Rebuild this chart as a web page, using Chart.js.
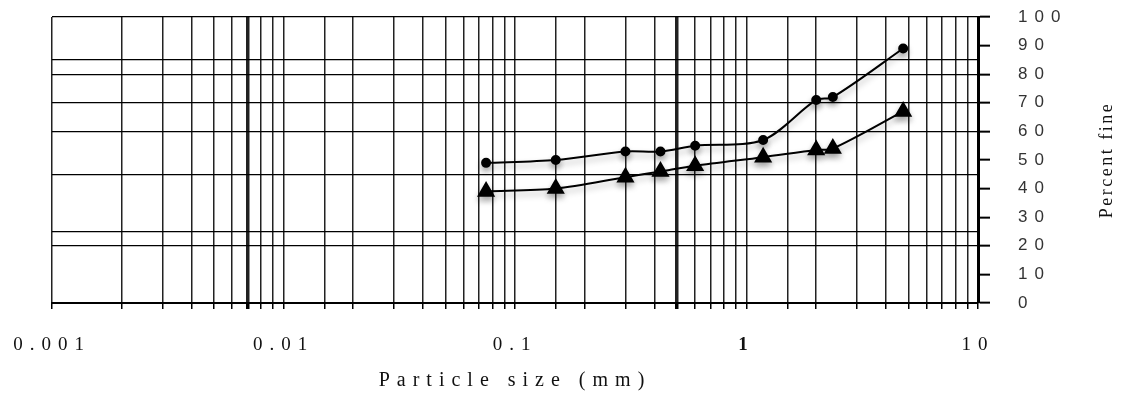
<!DOCTYPE html>
<html>
<head>
<meta charset="utf-8">
<script src="https://cdn.jsdelivr.net/npm/chart.js@4/dist/chart.umd.min.js"></script>
<style>
  html, body { margin: 0; padding: 0; background: #fff; }
  canvas { display: block; }
</style>
</head>
<body>
<canvas id="chart" width="1133" height="398"></canvas>
<script>
// sieve sizes (mm) and percent passing
const sieveSizes = [0.075, 0.15, 0.3, 0.425, 0.6, 1.18, 2.0, 2.36, 4.75]
const finesCircle = [49, 50, 53, 53, 55, 57, 71, 72, 89]
const finesTriangle = [39, 40, 44, 46, 48, 51, 53.5, 54, 67]

const xTickLabels = ['0.001', '0.01', '0.1', '1', '10']
const yTickValues = [0, 10, 20, 30, 40, 50, 60, 70, 80, 90, 100]
const yGridValues = [20, 25, 45, 60, 70, 80, 85, 100]
const xHeavyLines = [0.007, 0.5]

const near = (a, b) => Math.abs(a / b - 1) < 1e-6
const isDecade = v => Math.abs(Math.log10(v) - Math.round(Math.log10(v))) < 1e-6

const toPoints = ys => sieveSizes.map((x, i) => ({ x, y: ys[i] }))

// text in the scan is spread out, mimic with canvas letterSpacing
const spacing = {
  id: 'spacing',
  beforeDraw(chart) {
    chart.ctx.letterSpacing = '7px'
  }
}

const shadow = {
  id: 'shadow',
  beforeDatasetsDraw(chart) {
    const ctx = chart.ctx
    ctx.save()
    ctx.shadowColor = 'rgba(0,0,0,0.3)'
    ctx.shadowBlur = 6
    ctx.shadowOffsetY = 4
  },
  afterDatasetsDraw(chart) {
    chart.ctx.restore()
  }
}

// right-hand axis title reads bottom to top
const yTitle = {
  id: 'yTitle',
  afterDraw(chart) {
    const ctx = chart.ctx
    ctx.save()
    ctx.letterSpacing = '2.5px'
    ctx.font = '18px "Liberation Serif"'
    ctx.fillStyle = '#111'
    ctx.textAlign = 'center'
    ctx.textBaseline = 'middle'
    ctx.translate(1107, 160)
    ctx.rotate(-Math.PI / 2)
    ctx.fillText('Percent fine', 0, 0)
    ctx.restore()
  }
}

const chart = new Chart(document.getElementById('chart'), {
  type: 'line',
  data: {
    datasets: [
      {
        label: 'circle',
        data: toPoints(finesCircle),
        borderColor: '#000',
        backgroundColor: '#000',
        borderWidth: 2,
        pointStyle: 'circle',
        pointRadius: 4,
        tension: 0.3
      },
      {
        label: 'triangle',
        data: toPoints(finesTriangle),
        borderColor: '#000',
        backgroundColor: '#000',
        borderWidth: 2,
        pointStyle: 'triangle',
        pointRadius: 8.5,
        tension: 0.3
      }
    ]
  },
  options: {
    responsive: false,
    animation: false,
    layout: { padding: { left: 52, top: 17, right: 0, bottom: 0 } },
    plugins: {
      legend: { display: false },
      tooltip: { enabled: false }
    },
    scales: {
      x: {
        type: 'logarithmic',
        min: 0.001,
        max: 10,
        afterFit(scale) {
          scale.height = 95
          scale.paddingLeft = 0
          scale.paddingRight = 0
        },
        border: { display: true, color: '#000', width: 2 },
        grid: {
          color: '#222',
          tickColor: '#000',
          tickLength: 6,
          lineWidth: ctx => {
            const v = ctx.tick && ctx.tick.value
            return v && xHeavyLines.some(h => near(v, h)) ? 3.5 : 1.5
          }
        },
        ticks: {
          autoSkip: false,
          maxRotation: 0,
          padding: 25,
          color: '#111',
          font: ctx => ({
            family: '"Liberation Serif"',
            size: 19,
            weight: ctx.tick && near(ctx.tick.value, 1) ? 'bold' : 'normal'
          }),
          callback: v => isDecade(v) ? xTickLabels[Math.round(Math.log10(v)) + 3] : ''
        },
        title: {
          display: true,
          text: 'Particle size (mm)',
          color: '#111',
          font: { family: '"Liberation Serif"', size: 20 },
          padding: { top: 0, bottom: 5 }
        }
      },
      y: {
        position: 'right',
        min: 0,
        max: 100,
        afterBuildTicks(scale) {
          const vals = [...new Set([...yTickValues, ...yGridValues])].sort((a, b) => a - b)
          scale.ticks = vals.map(value => ({ value }))
        },
        afterFit(scale) {
          scale.width = 155
          scale.paddingTop = 0
          scale.paddingBottom = 0
        },
        border: { display: true, color: '#000', width: 3 },
        grid: {
          lineWidth: 1.3,
          color: ctx => ctx.tick && yGridValues.includes(ctx.tick.value) ? '#000' : 'rgba(0,0,0,0)',
          tickColor: ctx => ctx.tick && yTickValues.includes(ctx.tick.value) ? '#000' : 'rgba(0,0,0,0)',
          tickLength: 12,
          tickWidth: 2
        },
        ticks: {
          autoSkip: false,
          padding: 28,
          color: '#333',
          font: { family: '"Liberation Sans"', size: 17 },
          callback: v => yTickValues.includes(v) ? String(v) : ''
        }
      }
    }
  },
  plugins: [spacing, shadow, yTitle]
})
</script>
</body>
</html>
